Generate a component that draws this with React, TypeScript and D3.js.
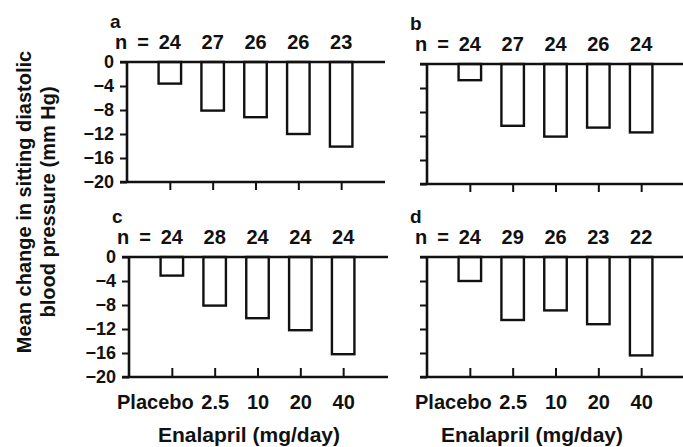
import React, { useEffect, useRef } from "react";
import * as d3 from "d3";

const doses = ["Placebo", "2.5", "10", "20", "40"];
const yTicks = [0, -4, -8, -12, -16, -20];

const changeA = [-3.6, -8.1, -9.2, -12, -14.1];
const changeB = [-2.7, -10.3, -12.1, -10.6, -11.4];
const changeC = [-3.1, -8.1, -10.2, -12.2, -16.2];
const changeD = [-4, -10.5, -8.9, -11.2, -16.4];

const nA = [24, 27, 26, 26, 23];
const nB = [24, 27, 24, 26, 24];
const nC = [24, 28, 24, 24, 24];
const nD = [24, 29, 26, 23, 22];

const FONT = "'Liberation Sans', Arial, Helvetica, sans-serif";

export default function App() {
  const svgRef = useRef<SVGSVGElement>(null);

  useEffect(() => {
    if (!svgRef.current) return;
    const svg = d3.select(svgRef.current);
    svg.selectAll("*").remove();

    const width = 683;
    const plotW = 257;
    const plotH = 120;

    const panels = [
      { letter: "a", values: changeA, ns: nA, left: 127, top: 62, lineEnd: 385, labels: true, doses: false, titleX: 0 },
      { letter: "b", values: changeB, ns: nB, left: 427, top: 64, lineEnd: width, labels: false, doses: false, titleX: 0 },
      { letter: "c", values: changeC, ns: nC, left: 129, top: 257, lineEnd: 388, labels: true, doses: true, titleX: 249 },
      { letter: "d", values: changeD, ns: nD, left: 427, top: 257, lineEnd: width, labels: false, doses: true, titleX: 532 },
    ];

    panels.forEach((p) => {
      const x = d3
        .scalePoint<string>()
        .domain(doses)
        .range([p.left, p.left + plotW])
        .padding(1);
      const y = d3
        .scaleLinear()
        .domain([0, -20])
        .range([p.top, p.top + plotH]);
      const bw = 22.5;
      const g = svg.append("g");

      // bars
      g.selectAll("rect.bar")
        .data(p.values.map((v, i) => ({ dose: doses[i], v })))
        .enter()
        .append("rect")
        .attr("class", "bar")
        .attr("x", (d) => (x(d.dose) || 0) - bw / 2)
        .attr("y", y(0))
        .attr("width", bw)
        .attr("height", (d) => y(d.v) - y(0))
        .attr("fill", "#fff")
        .attr("stroke", "#111")
        .attr("stroke-width", 2.4);

      // y axis
      const ya = g
        .append("g")
        .attr("transform", `translate(${p.left},0)`)
        .call(
          d3
            .axisLeft(y)
            .tickValues(yTicks)
            .tickSize(7)
            .tickPadding(6)
            .tickFormat((d) =>
              p.labels ? (Number(d) === 0 ? "0" : "\u2212" + Math.abs(Number(d))) : ""
            )
        );
      ya.select(".domain").remove();
      ya.selectAll("line").attr("stroke", "#111").attr("stroke-width", 2);
      ya.selectAll("text")
        .attr("font-family", FONT)
        .attr("font-size", 18)
        .attr("font-weight", "bold")
        .attr("fill", "#111");
      g.append("line")
        .attr("x1", p.left)
        .attr("x2", p.left)
        .attr("y1", y(0))
        .attr("y2", y(-20))
        .attr("stroke", "#111")
        .attr("stroke-width", 2.6);

      // zero line and bottom line
      [0, -20].forEach((v) => {
        g.append("line")
          .attr("x1", p.left - 7)
          .attr("x2", p.lineEnd)
          .attr("y1", y(v))
          .attr("y2", y(v))
          .attr("stroke", "#111")
          .attr("stroke-width", 2.4);
      });

      // bottom axis ticks
      const xa = g
        .append("g")
        .attr("transform", `translate(0,${y(-20)})`)
        .call(
          d3
            .axisBottom(x)
            .tickSize(p.doses ? -9 : 8)
            .tickSizeOuter(0)
            .tickFormat((d) => (p.doses ? d : ""))
        );
      xa.select(".domain").remove();
      xa.selectAll("line").attr("stroke", "#111").attr("stroke-width", 2);
      xa.selectAll("text")
        .attr("y", 32)
        .attr("dy", 0)
        .attr("font-family", FONT)
        .attr("font-size", 20)
        .attr("font-weight", "bold")
        .attr("fill", "#111")
        .attr("dx", (d) => (d === "Placebo" ? -17 : 0));

      if (p.doses) {
        g.append("text")
          .attr("x", p.titleX)
          .attr("y", 442)
          .attr("text-anchor", "middle")
          .attr("font-family", FONT)
          .attr("font-size", 21)
          .attr("font-weight", "bold")
          .attr("fill", "#111")
          .text("Enalapril (mg/day)");
      }

      // n labels
      g.selectAll("text.n")
        .data(p.ns.map((n, i) => ({ dose: doses[i], n })))
        .enter()
        .append("text")
        .attr("class", "n")
        .attr("x", (d) => x(d.dose) || 0)
        .attr("y", p.top - 13)
        .attr("text-anchor", "middle")
        .attr("font-family", FONT)
        .attr("font-size", 20)
        .attr("font-weight", "bold")
        .attr("fill", "#111")
        .text((d) => String(d.n));
      g.append("text")
        .attr("x", (x(doses[0]) || 0) - 21)
        .attr("y", p.top - 13)
        .attr("text-anchor", "end")
        .attr("font-family", FONT)
        .attr("font-size", 20)
        .attr("font-weight", "bold")
        .attr("fill", "#111")
        .text("n\u2002=");

      // panel letter
      g.append("text")
        .attr("x", p.left - 17)
        .attr("y", p.top - 34)
        .attr("font-family", FONT)
        .attr("font-size", 19)
        .attr("font-weight", "bold")
        .attr("fill", "#111")
        .text(p.letter);
    });

    // y axis title
    const title = svg
      .append("text")
      .attr("transform", `translate(0,202) rotate(-90)`)
      .attr("text-anchor", "middle")
      .attr("font-family", FONT)
      .attr("font-size", 20)
      .attr("font-weight", "bold")
      .attr("fill", "#111");
    title.append("tspan").attr("x", 0).attr("y", 31).text("Mean change in sitting diastolic");
    title.append("tspan").attr("x", 0).attr("y", 55).text("blood pressure (mm Hg)");
  }, []);

  return (
    <svg
      ref={svgRef}
      width={683}
      height={447}
      style={{ position: "absolute", left: 0, top: 0, background: "#fff" }}
    />
  );
}
